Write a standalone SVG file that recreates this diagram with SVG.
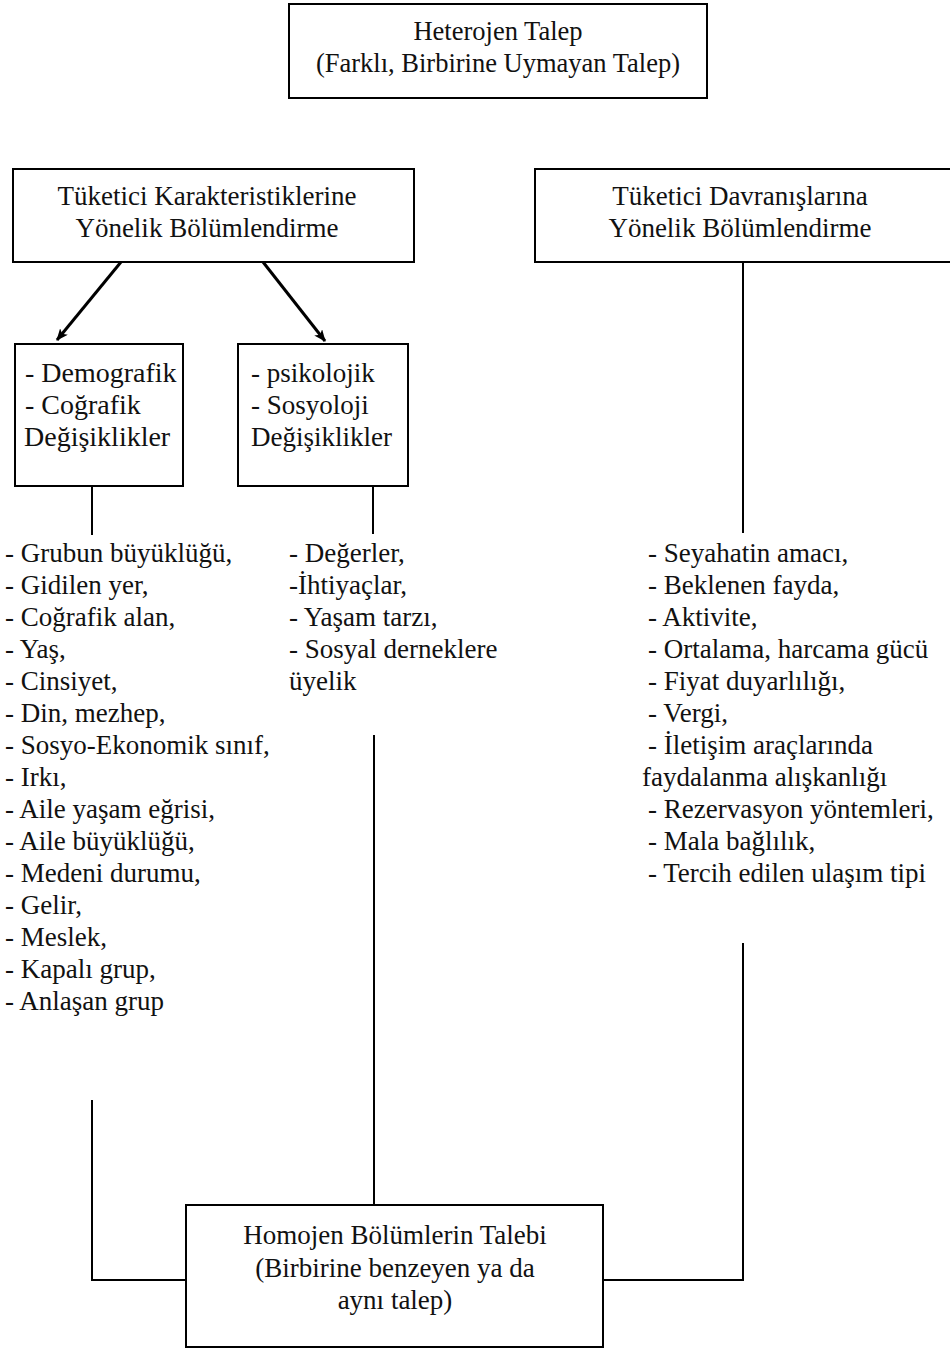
<svg xmlns="http://www.w3.org/2000/svg" width="950" height="1350" viewBox="0 0 950 1350">
<style>
.box{fill:#fff;stroke:#000;stroke-width:2}
.t{font-family:"Liberation Serif","Times New Roman",serif;font-size:27px;fill:#111}
.c{text-anchor:middle}
.ln{stroke:#000;stroke-width:2;fill:none}
.ar{stroke:#000;stroke-width:3;fill:none}
</style>
<defs>
<marker id="ah" viewBox="0 0 12 10" refX="11" refY="5" markerWidth="12" markerHeight="10" markerUnits="userSpaceOnUse" orient="auto">
<path d="M0,0 L12,5 L0,10 L3,5 Z" fill="#000"/>
</marker>
</defs>
<rect width="950" height="1350" fill="#fff"/>
<g id="connectors">
<line class="ar" x1="121" y1="262" x2="57" y2="340" marker-end="url(#ah)"/>
<line class="ar" x1="263" y1="262" x2="325" y2="341" marker-end="url(#ah)"/>
<line class="ln" x1="92" y1="486" x2="92" y2="535"/>
<line class="ln" x1="373" y1="486" x2="373" y2="534"/>
<line class="ln" x1="743" y1="262" x2="743" y2="533"/>
<line class="ln" x1="374" y1="735" x2="374" y2="1205"/>
<polyline class="ln" points="92,1100 92,1280 186,1280"/>
<polyline class="ln" points="743,943 743,1280 603,1280"/>
</g>
<g id="heterojen">
<rect class="box" x="289" y="4" width="418" height="94"/>
<text class="t c" x="498" y="40" style="font-size:26.5px">Heterojen Talep</text>
<text class="t c" x="498" y="72" style="font-size:26.5px">(Farklı, Birbirine Uymayan Talep)</text>
</g>
<g id="karakteristik">
<rect class="box" x="13" y="169" width="401" height="93"/>
<text class="t c" x="207" y="205">Tüketici Karakteristiklerine</text>
<text class="t c" x="207" y="237">Yönelik Bölümlendirme</text>
</g>
<g id="davranis">
<rect class="box" x="535" y="169" width="420" height="93"/>
<text class="t c" x="740" y="205">Tüketici Davranışlarına</text>
<text class="t c" x="740" y="237">Yönelik Bölümlendirme</text>
</g>
<g id="demografik">
<rect class="box" x="15" y="344" width="168" height="142"/>
<text class="t" x="25" y="382" style="font-size:28px">- Demografik</text>
<text class="t" x="25" y="414" style="font-size:28px">- Coğrafik</text>
<text class="t" x="24" y="446" style="font-size:28px">Değişiklikler</text>
</g>
<g id="psikolojik">
<rect class="box" x="238" y="344" width="170" height="142"/>
<text class="t" x="251" y="382">- psikolojik</text>
<text class="t" x="251" y="414">- Sosyoloji</text>
<text class="t" x="251" y="446">Değişiklikler</text>
</g>
<g id="liste-sol">
<text class="t" x="5" y="562">- Grubun büyüklüğü,</text>
<text class="t" x="5" y="594">- Gidilen yer,</text>
<text class="t" x="5" y="626">- Coğrafik alan,</text>
<text class="t" x="5" y="658">- Yaş,</text>
<text class="t" x="5" y="690">- Cinsiyet,</text>
<text class="t" x="5" y="722">- Din, mezhep,</text>
<text class="t" x="5" y="754">- Sosyo-Ekonomik sınıf,</text>
<text class="t" x="5" y="786">- Irkı,</text>
<text class="t" x="5" y="818">- Aile yaşam eğrisi,</text>
<text class="t" x="5" y="850">- Aile büyüklüğü,</text>
<text class="t" x="5" y="882">- Medeni durumu,</text>
<text class="t" x="5" y="914">- Gelir,</text>
<text class="t" x="5" y="946">- Meslek,</text>
<text class="t" x="5" y="978">- Kapalı grup,</text>
<text class="t" x="5" y="1010">- Anlaşan grup</text>
</g>
<g id="liste-orta">
<text class="t" x="289" y="562">- Değerler,</text>
<text class="t" x="289" y="594">-İhtiyaçlar,</text>
<text class="t" x="289" y="626">- Yaşam tarzı,</text>
<text class="t" x="289" y="658">- Sosyal derneklere</text>
<text class="t" x="289" y="690">üyelik</text>
</g>
<g id="liste-sag">
<text class="t" x="648" y="562">- Seyahatin amacı,</text>
<text class="t" x="648" y="594">- Beklenen fayda,</text>
<text class="t" x="648" y="626">- Aktivite,</text>
<text class="t" x="648" y="658">- Ortalama, harcama gücü</text>
<text class="t" x="648" y="690">- Fiyat duyarlılığı,</text>
<text class="t" x="648" y="722">- Vergi,</text>
<text class="t" x="648" y="754">- İletişim araçlarında</text>
<text class="t" x="642" y="786">faydalanma alışkanlığı</text>
<text class="t" x="648" y="818">- Rezervasyon yöntemleri,</text>
<text class="t" x="648" y="850">- Mala bağlılık,</text>
<text class="t" x="648" y="882">- Tercih edilen ulaşım tipi</text>
</g>
<g id="homojen">
<rect class="box" x="186" y="1205" width="417" height="142"/>
<text class="t c" x="395" y="1244">Homojen Bölümlerin Talebi</text>
<text class="t c" x="395" y="1277">(Birbirine benzeyen ya da</text>
<text class="t c" x="395" y="1309">aynı talep)</text>
</g>
</svg>
